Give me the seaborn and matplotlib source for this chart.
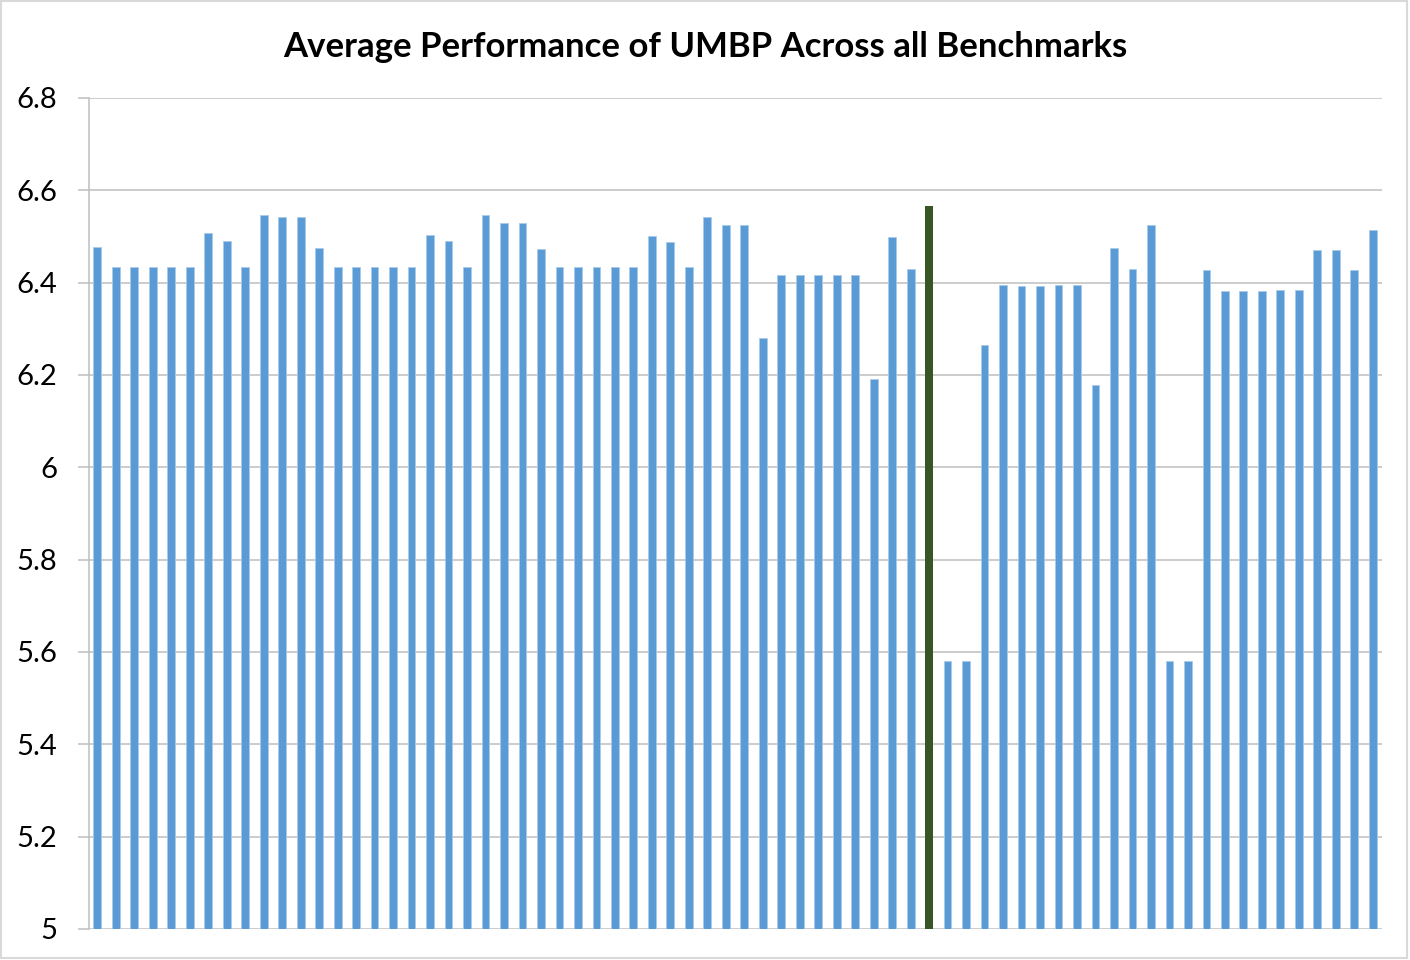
import matplotlib
matplotlib.use("Agg")
import matplotlib.pyplot as plt
import seaborn as sns
import pandas as pd

# ---- data ----
values = [
    6.478, 6.433, 6.433, 6.433, 6.433, 6.433, 6.508, 6.490, 6.433, 6.547,
    6.542, 6.542, 6.476, 6.433, 6.433, 6.433, 6.433, 6.433, 6.503, 6.490,
    6.433, 6.547, 6.530, 6.530, 6.474, 6.433, 6.433, 6.433, 6.433, 6.433,
    6.500, 6.488, 6.433, 6.542, 6.524, 6.524, 6.281, 6.417, 6.417, 6.417,
    6.417, 6.417, 6.192, 6.498, 6.430, 6.566, 5.580, 5.580, 6.265, 6.394,
    6.393, 6.393, 6.395, 6.395, 6.178, 6.476, 6.429, 6.524, 5.580, 5.580,
    6.427, 6.383, 6.382, 6.382, 6.385, 6.385, 6.471, 6.471, 6.428, 6.514,
]
highlight_index = 45
categories = [str(i + 1) for i in range(len(values))]
y_ticks = [5, 5.2, 5.4, 5.6, 5.8, 6, 6.2, 6.4, 6.6, 6.8]
y_ticklabels = ["5", "5.2", "5.4", "5.6", "5.8", "6", "6.2", "6.4", "6.6", "6.8"]
title = "Average Performance of UMBP Across all Benchmarks"

BLUE = "#5B9BD5"
GREEN = "#375623"
GRID = "#BFBFBF"

df = pd.DataFrame({"cat": categories, "val": values})
palette = {c: (GREEN if i == highlight_index else BLUE) for i, c in enumerate(categories)}

sns.set_style("white")
plt.rcParams["font.family"] = ["Lato", "DejaVu Sans"]

fig = plt.figure(figsize=(14.1, 9.6), dpi=100)
ax = fig.add_axes([89 / 1410, 1 - 929 / 960, (1382 - 89) / 1410, (929 - 98) / 960])

sns.barplot(data=df, x="cat", y="val", hue="cat", palette=palette, legend=False,
            width=0.42, ax=ax, order=categories, linewidth=0, saturation=1)

for i, p in enumerate(ax.patches):
    if i != highlight_index:
        p.set_edgecolor("#A9CBEB")
        p.set_linewidth(0.6)

ax.set_ylim(5, 6.8)
ax.set_xlim(-0.45, len(values) - 0.5)
ax.set_yticks(y_ticks)
ax.set_yticklabels(y_ticklabels, fontsize=21)
ax.set_xticks([])
ax.set_xlabel("")
ax.set_ylabel("")

ax.grid(axis="y", color=GRID, linewidth=1.1)
ax.set_axisbelow(True)
for s in ["top", "right", "bottom"]:
    ax.spines[s].set_visible(False)
ax.spines["left"].set_color(GRID)
ax.spines["left"].set_linewidth(1.1)
ax.tick_params(axis="y", length=8, width=1.1, color=GRID, pad=15, labelcolor="black", left=True)

fig.text(0.5, 1 - 47 / 960, title, ha="center", va="center", fontsize=25,
         fontweight="bold", color="black")

# chart area border
fig.patches.append(plt.Rectangle((0.001, 0.002), 0.997, 0.997, transform=fig.transFigure,
                                 fill=False, edgecolor="#D9D9D9", linewidth=1.5))

fig.savefig("out.png", dpi=100)
